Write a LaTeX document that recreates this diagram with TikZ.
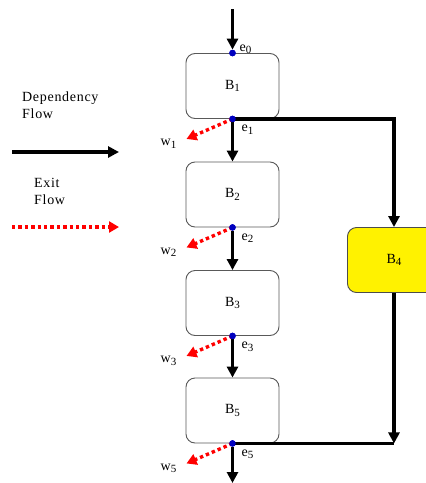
\documentclass[tikz,border=0pt]{standalone}
\usepackage{fontspec}
\setmainfont{Liberation Serif}
\newfontfamily\spfont[LetterSpace=5]{Liberation Serif}
\usetikzlibrary{arrows.meta, positioning, calc}

% subscript at a slightly reduced size
\newcommand\lowidx[1]{\raisebox{-0.4ex}{\fontsize{11}{11}\selectfont #1}}

\tikzset{
    blk/.style={draw=black!65, line width=0.9pt, rounded corners=9pt, minimum width=93pt, minimum height=65pt, fill=white, font=\spfont\fontsize{14}{16}\selectfont},
    dep/.style={line width=3.2pt, -{Triangle[length=11pt,width=11pt]}},
    depline/.style={line width=3.2pt},
    ext/.style={red, line width=3.4pt, dash pattern=on 3.4pt off 3pt, -{Triangle[length=10pt,width=11pt]}},
    edot/.style={circle, fill=blue!75!black, inner sep=0pt, minimum size=6.5pt},
    lbl/.style={font=\spfont\fontsize{14}{17}\selectfont, inner sep=1pt},
}

\begin{document}
\begin{tikzpicture}[x=1pt, y=-1pt]
\clip (0,0) rectangle (426,483);

% legend
\node[lbl, anchor=north west, align=left] (deptxt) at (21,91) {Dependency\\Flow};
\coordinate (d0) at (12,152);
\coordinate (d1) at (119,152);
\draw[dep] (d0) -- (d1);
\node[lbl, anchor=north west, align=left] (exittxt) at (33,177) {Exit\\Flow};
\coordinate (x0) at (12,227);
\coordinate (x1) at (119,227);
\draw[ext] (x0) -- (x1);

% main chain of blocks
\foreach \n/\y in {1/86,2/194.5,3/303,5/410.5} {
    \node[blk] (B\n) at (232.5,\y) {B\lowidx{\n}};
}
\node[blk, fill=yellow, draw=black!70] (B4) at (394,260) {B\lowidx{4}};

% entry / exit points
\node[edot] (e0) at (B1.north) {};
\foreach \n in {1,2,3,5} {
    \node[edot] (e\n) at (B\n.south) {};
}

% dependency arrows
\coordinate (top) at (232.5,9);
\coordinate (bot) at (232.5,483);
\draw[dep] (top) -- (e0);
\draw[dep] (e1) -- (B2);
\draw[dep] (e2) -- (B3);
\draw[dep] (e3) -- (B5);
\draw[dep] (e5) -- (bot);
\draw[dep] (e1.center) -| (B4.north);
\coordinate (m5) at (B4.south |- e5.center);
\draw[depline] (e5.center) -- (m5);
\draw[dep] (B4.south) -- (m5);

% exit arrows
\foreach \n in {1,2,3,5} {
    \coordinate (t\n) at ($(e\n)+(-46,20)$);
    \draw[ext] (e\n.center) -- (t\n);
    \node[lbl, anchor=east] (w\n) at ($(t\n)+(-9,5)$) {w\lowidx{\n}};
    \node[lbl, anchor=north west] (el\n) at ($(e\n)+(8,5)$) {e\lowidx{\n}};
}
\node[lbl, anchor=west] (el0) at ($(e0)+(6,-4)$) {e\lowidx{0}};
\foreach \n in {0,1,2,3,5} {
    \node[edot] at (e\n) {};
}
\end{tikzpicture}
\end{document}
